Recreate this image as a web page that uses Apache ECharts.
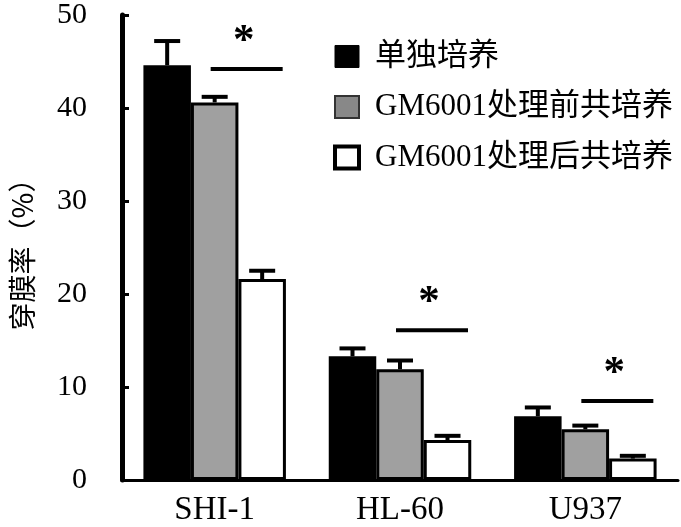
<!DOCTYPE html>
<html>
<head>
<meta charset="utf-8">
<script src="https://cdn.jsdelivr.net/npm/echarts@6/dist/echarts.min.js"></script>
<style>html,body{margin:0;padding:0;background:#fff;}#c{width:681px;height:527px;}</style>
</head>
<body>
<div id="c"></div>
<script>
const categories = ['SHI-1', 'HL-60', 'U937'];
const seriesNames = ['单独培养', 'GM6001处理前共培养', 'GM6001处理后共培养'];
const aloneVals = [44.6, 13.3, 6.85];
const aloneErr = [2.6, 0.85, 0.95];
const preVals = [40.6, 11.9, 5.45];
const preErr = [0.6, 0.95, 0.4];
const postVals = [21.6, 4.3, 2.3];
const postErr = [0.9, 0.45, 0.3];
const sigLevels = [44.2, 16.1, 8.5];
const sigMarks = ['*', '*', '*'];
const yTicks = [0, 10, 20, 30, 40, 50];

const SERIF = "'Liberation Serif', 'Times New Roman', serif";
const MIX = "'Liberation Serif', 'Noto Sans CJK SC', serif";
const BW = 47.5;
const colors = ['#000000', '#a0a0a0', '#ffffff'];
const valsList = [aloneVals, preVals, postVals];
const errList = [aloneErr, preErr, postErr];

const chart = echarts.init(document.getElementById('c'), null, {renderer: 'canvas'});

const barSeries = valsList.map((vals, i) => ({
  name: seriesNames[i],
  type: 'bar',
  data: vals,
  barWidth: BW,
  barGap: '0%',
  itemStyle: {color: colors[i], borderColor: '#000', borderWidth: 3},
  emphasis: {disabled: true},
  z: 2
}));

const errData = [];
valsList.forEach((vals, si) => {
  vals.forEach((v, ci) => errData.push([ci, v, errList[si][ci], si]));
});

const errSeries = {
  type: 'custom',
  data: errData,
  z: 1,
  silent: true,
  renderItem: function (params, api) {
    const ci = api.value(0), v = api.value(1), e = api.value(2), si = api.value(3);
    const off = (si - 1) * BW;
    const base = api.coord([ci, v]);
    const top = api.coord([ci, v + e]);
    const x = base[0] + off;
    return {
      type: 'group',
      children: [
        {type: 'line', shape: {x1: x, y1: base[1], x2: x, y2: top[1]}, style: {stroke: '#000', lineWidth: 4}},
        {type: 'line', shape: {x1: x - 13, y1: top[1], x2: x + 13, y2: top[1]}, style: {stroke: '#000', lineWidth: 4}}
      ]
    };
  }
};

const sigSeries = {
  type: 'custom',
  data: sigLevels.map((lv, ci) => [ci, lv]),
  z: 3,
  silent: true,
  renderItem: function (params, api) {
    const ci = api.value(0), lv = api.value(1);
    const p = api.coord([ci, lv]);
    return {
      type: 'group',
      children: [
        {type: 'line', shape: {x1: p[0] - 4, y1: p[1], x2: p[0] + 68, y2: p[1]}, style: {stroke: '#000', lineWidth: 4}},
        {type: 'text', style: {x: p[0] + 29, y: p[1] - 49, text: sigMarks[params.dataIndex], fill: '#000', font: 'bold 43px ' + SERIF, align: 'center', verticalAlign: 'top'}}
      ]
    };
  }
};

chart.setOption({
  animation: false,
  backgroundColor: '#fff',
  grid: {left: 114, right: 3, top: 8, bottom: 45.5},
  legend: {
    orient: 'vertical',
    left: 328,
    top: 36,
    itemGap: 19.5,
    itemWidth: 24,
    itemHeight: 22,
    icon: 'rect',
    selectedMode: false,
    textStyle: {fontFamily: MIX, fontSize: 31, color: '#000', padding: [0, 0, 0, 11]},
    data: [
      {name: seriesNames[0], itemStyle: {color: '#000', borderColor: '#000', borderWidth: 1}},
      {name: seriesNames[1], itemStyle: {color: '#888', borderColor: '#333', borderWidth: 2}},
      {name: seriesNames[2], itemStyle: {color: '#fff', borderColor: '#000', borderWidth: 4}}
    ]
  },
  xAxis: {
    type: 'category',
    data: categories,
    axisLine: {lineStyle: {color: '#000', width: 3}},
    axisTick: {show: false},
    axisLabel: {fontFamily: SERIF, fontSize: 33, color: '#000', margin: 14}
  },
  yAxis: {
    type: 'value',
    min: yTicks[0],
    max: yTicks[yTicks.length - 1],
    interval: 10,
    name: '穿膜率（%）',
    nameLocation: 'middle',
    nameRotate: 90,
    nameGap: 86,
    nameTextStyle: {fontFamily: "'Noto Sans CJK SC'", fontSize: 28, color: '#000'},
    axisLine: {show: true, lineStyle: {color: '#000', width: 5}},
    axisTick: {show: true, inside: true, length: 7, lineStyle: {color: '#000', width: 3}},
    axisLabel: {fontFamily: SERIF, fontSize: 30, color: '#000', margin: 35},
    splitLine: {show: false}
  },
  series: [...barSeries, errSeries, sigSeries]
});
</script>
</body>
</html>
